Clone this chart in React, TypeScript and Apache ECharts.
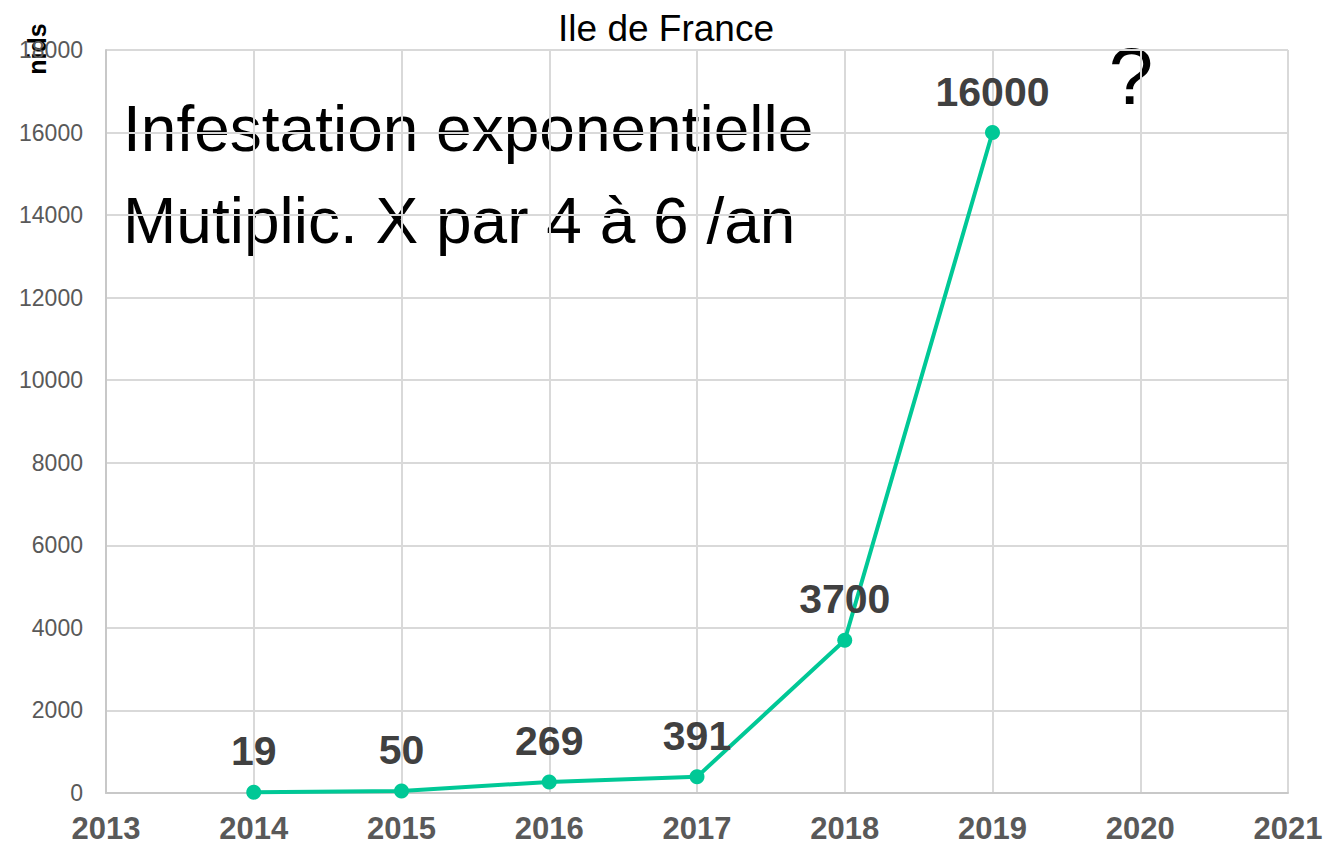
import React, { useEffect, useRef } from "react";
import * as echarts from "echarts";

const years = [2014, 2015, 2016, 2017, 2018, 2019];
const nids = [19, 50, 269, 391, 3700, 16000];
const titleText = "Ile de France";
const yAxisName = "nids";
const noteLines = ["Infestation exponentielle", "Mutiplic. X par 4 à 6 /an"];
const questionMark = "?";

export default function App() {
  const ref = useRef<HTMLDivElement>(null);
  useEffect(() => {
    const chart = echarts.init(ref.current!, null, { renderer: "svg" });
    const font = "'Liberation Sans', Arial, sans-serif";
    chart.setOption({
      animation: false,
      backgroundColor: "#ffffff",
      textStyle: { fontFamily: font },
      grid: { left: 106, right: 48, top: 50, bottom: 64 },
      xAxis: {
        type: "value",
        min: 2013,
        max: 2021,
        interval: 1,
        axisLine: { show: true, lineStyle: { color: "#c8c8c8", width: 2 } },
        axisTick: { show: false },
        splitLine: { show: true, lineStyle: { color: "#d9d9d9", width: 2 } },
        axisLabel: {
          fontSize: 31,
          fontWeight: "bold",
          color: "#595959",
          margin: 20,
          fontFamily: font,
          formatter: (v: number) => String(v),
        },
      },
      yAxis: {
        type: "value",
        min: 0,
        max: 18000,
        interval: 2000,
        axisLine: { show: true, lineStyle: { color: "#c8c8c8", width: 2 } },
        axisTick: { show: false },
        splitLine: { show: true, lineStyle: { color: "#d9d9d9", width: 2 } },
        axisLabel: {
          fontSize: 23,
          color: "#595959",
          margin: 23,
          fontFamily: font,
          formatter: (v: number) => String(v),
        },
      },
      graphic: [
        {
          type: "text",
          x: 666,
          y: 28,
          style: {
            text: titleText,
            font: `37px ${font}`,
            fill: "#000",
            align: "center",
            verticalAlign: "middle",
          },
        },
        {
          type: "text",
          x: 37,
          y: 49,
          rotation: Math.PI / 2,
          style: {
            text: yAxisName,
            font: `bold 25px ${font}`,
            fill: "#000",
            align: "center",
            verticalAlign: "middle",
          },
        },
        {
          type: "text",
          x: 123,
          y: 129,
          style: {
            text: noteLines[0],
            font: `64px ${font}`,
            fill: "#000",
            align: "left",
            verticalAlign: "middle",
          },
        },
        {
          type: "text",
          x: 123,
          y: 221,
          style: {
            text: noteLines[1],
            font: `64px ${font}`,
            fill: "#000",
            align: "left",
            verticalAlign: "middle",
          },
        },
        {
          type: "text",
          x: 1131,
          y: 76,
          style: {
            text: questionMark,
            font: `80px ${font}`,
            fill: "#000",
            align: "center",
            verticalAlign: "middle",
          },
        },
      ],
      series: [
        {
          type: "line",
          data: years.map((y, i) => [y, nids[i]]),
          lineStyle: { color: "#00C896", width: 4 },
          itemStyle: { color: "#00C896" },
          symbol: "circle",
          symbolSize: 15,
          label: {
            show: true,
            position: "top",
            distance: 13,
            fontSize: 41,
            fontWeight: "bold",
            color: "#404040",
            fontFamily: font,
            formatter: (p: any) => String(p.value[1]),
          },
        },
      ],
    });
    return () => chart.dispose();
  }, []);
  return (
    <div
      ref={ref}
      style={{ position: "fixed", left: 0, top: 0, width: 1336, height: 857 }}
    />
  );
}
